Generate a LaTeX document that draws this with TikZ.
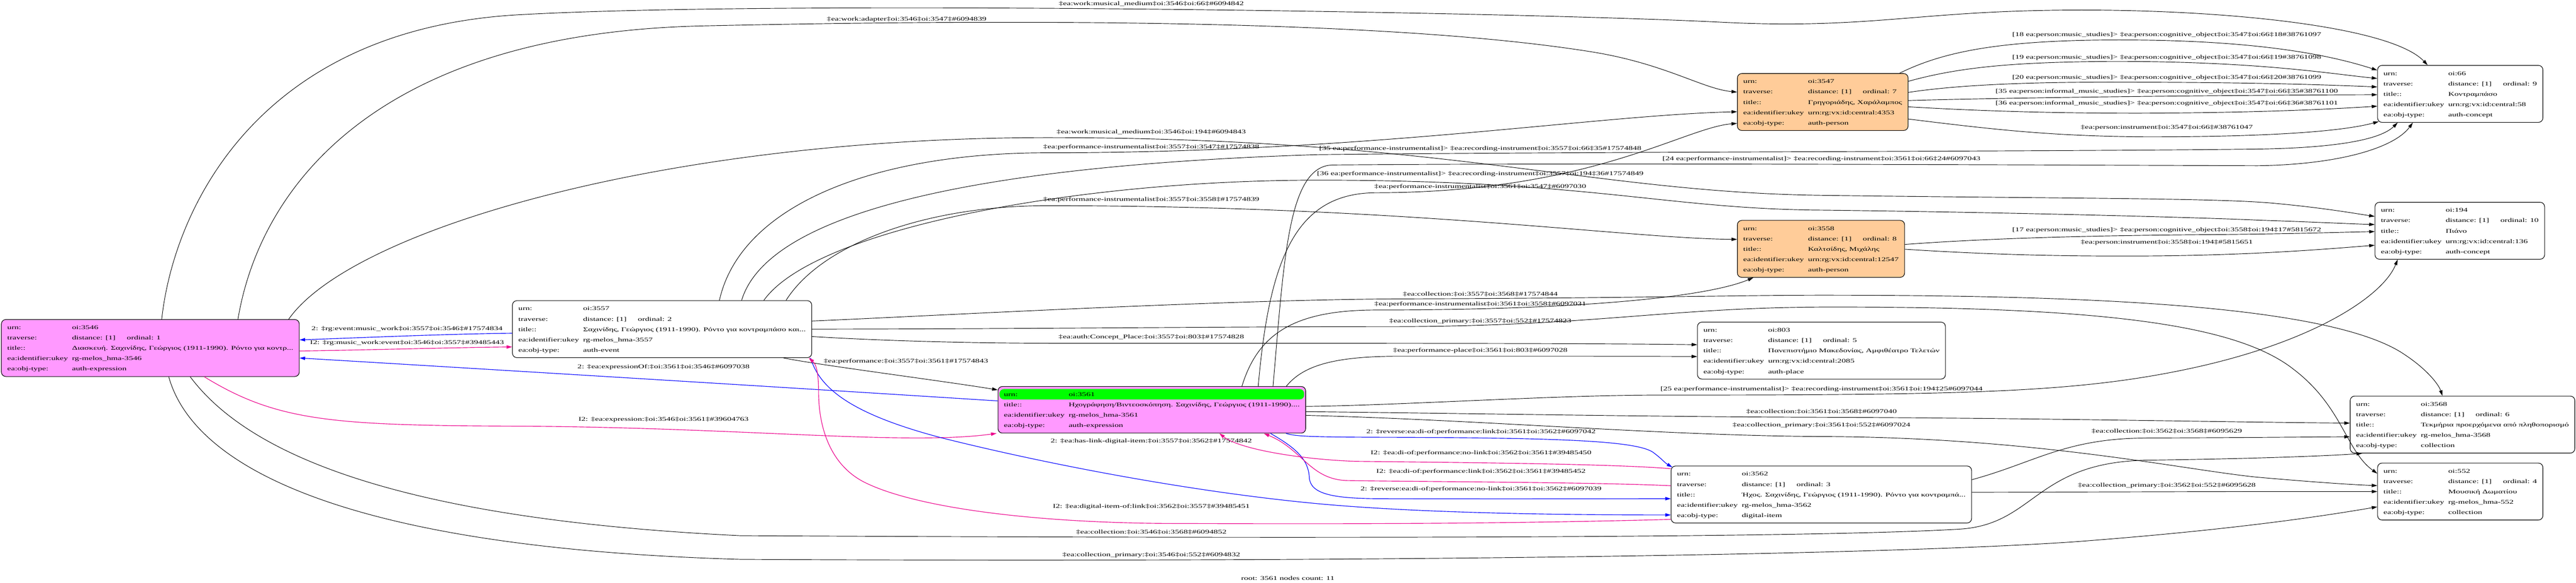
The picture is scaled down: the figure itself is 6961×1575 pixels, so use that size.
\documentclass[tikz,border=0pt]{standalone}
\usepackage{fontspec}
\setmainfont{Liberation Serif}[FakeStretch=1.5]
\usetikzlibrary{calc,arrows.meta}

\definecolor{exprpink}{HTML}{FF99FF}
\definecolor{persorange}{HTML}{FFCC99}
\definecolor{rootgreen}{HTML}{00FF00}

\def\recrow#1#2{\strut\makebox[175pt][l]{#1}#2}
\def\travrow#1{\recrow{traverse:}{\makebox[148pt][l]{distance: [1]}ordinal: #1}}

\tikzset{
	rec/.style={draw, line width=1.5pt, rounded corners=12pt, inner xsep=16pt, inner ysep=7pt, align=left, anchor=north west, font=\fontsize{15.5}{28}\selectfont},
	lab/.style={inner sep=0pt, font=\fontsize{15.5}{18}\selectfont},
	ed/.style={line width=1.3pt, -{Triangle[length=15pt,width=9pt]}},
	edblue/.style={ed, draw=blue, line width=1.6pt},
	edpink/.style={ed, draw=magenta, line width=1.6pt},
	rootrow/.style={path picture={\fill[rootgreen] ([xshift=4pt,yshift=-7pt]path picture bounding box.north west) rectangle ([xshift=-4pt,yshift=-35pt]path picture bounding box.north east);}}
}

\begin{document}
\begin{tikzpicture}[x=1pt,y=-1pt]
			%%%%% START %%%%%
			\path[use as bounding box, fill=white] (0,0) rectangle (6961,1575);
			
			% records
			\node[rec, fill=exprpink] (n3546) at (3,863) {\recrow{urn:}{oi:3546}\\\travrow{1}\\\recrow{title::}{Διασκευή. Σαχινίδης, Γεώργιος (1911-1990). Ρόντο για κοντρ...}\\\recrow{ea:identifier:ukey}{rg-melos\_hma-3546}\\\recrow{ea:obj-type:}{auth-expression}};
			\node[rec] (n3557) at (1384,812) {\recrow{urn:}{oi:3557}\\\travrow{2}\\\recrow{title::}{Σαχινίδης, Γεώργιος (1911-1990). Ρόντο για κοντραμπάσο και...}\\\recrow{ea:identifier:ukey}{rg-melos\_hma-3557}\\\recrow{ea:obj-type:}{auth-event}};
			\node[rec, fill=exprpink, rootrow] (n3561) at (2696,1044) {\recrow{urn:}{oi:3561}\\\recrow{title::}{Ηχογράφηση/Βιντεοσκόπηση. Σαχινίδης, Γεώργιος (1911-1990)....}\\\recrow{ea:identifier:ukey}{rg-melos\_hma-3561}\\\recrow{ea:obj-type:}{auth-expression}};
			\node[rec, fill=persorange] (n3547) at (4694,198) {\recrow{urn:}{oi:3547}\\\travrow{7}\\\recrow{title::}{Γρηγοριάδης, Χαράλαμπος}\\\recrow{ea:identifier:ukey}{urn:rg:vx:id:central:4353}\\\recrow{ea:obj-type:}{auth-person}};
			\node[rec, fill=persorange] (n3558) at (4694,595) {\recrow{urn:}{oi:3558}\\\travrow{8}\\\recrow{title::}{Καλτσίδης, Μιχάλης}\\\recrow{ea:identifier:ukey}{urn:rg:vx:id:central:12547}\\\recrow{ea:obj-type:}{auth-person}};
			\node[rec, anchor=north] (n803) at (4922,870) {\recrow{urn:}{oi:803}\\\travrow{5}\\\recrow{title::}{Πανεπιστήμιο Μακεδονίας, Αμφιθέατρο Τελετών}\\\recrow{ea:identifier:ukey}{urn:rg:vx:id:central:2085}\\\recrow{ea:obj-type:}{auth-place}};
			\node[rec] (n3562) at (4515,1259) {\recrow{urn:}{oi:3562}\\\travrow{3}\\\recrow{title::}{Ήχος. Σαχινίδης, Γεώργιος (1911-1990). Ρόντο για κοντραμπά...}\\\recrow{ea:identifier:ukey}{rg-melos\_hma-3562}\\\recrow{ea:obj-type:}{digital-item}};
			\node[rec] (n66) at (6424,176) {\recrow{urn:}{oi:66}\\\travrow{9}\\\recrow{title::}{Κοντραμπάσο}\\\recrow{ea:identifier:ukey}{urn:rg:vx:id:central:58}\\\recrow{ea:obj-type:}{auth-concept}};
			\node[rec] (n194) at (6417,546) {\recrow{urn:}{oi:194}\\\travrow{10}\\\recrow{title::}{Πιάνο}\\\recrow{ea:identifier:ukey}{urn:rg:vx:id:central:136}\\\recrow{ea:obj-type:}{auth-concept}};
			\node[rec] (n3568) at (6350,1070) {\recrow{urn:}{oi:3568}\\\travrow{6}\\\recrow{title::}{Τεκμήρια προερχόμενα από πληθοπορισμό}\\\recrow{ea:identifier:ukey}{rg-melos\_hma-3568}\\\recrow{ea:obj-type:}{collection}};
			\node[rec] (n552) at (6424,1251) {\recrow{urn:}{oi:552}\\\travrow{4}\\\recrow{title::}{Μουσική Δωματίου}\\\recrow{ea:identifier:ukey}{rg-melos\_hma-552}\\\recrow{ea:obj-type:}{collection}};
			
			% labels
			\node[lab] (lE1) at (3111,10) {‡ea:work:musical\_medium‡oi:3546‡oi:66‡\#6094842};
			\node[lab] (lE2) at (2450,52) {‡ea:work:adapter‡oi:3546‡oi:3547‡\#6094839};
			\node[lab] (lE3) at (5855,95) {[18 ea:person:music\_studies]> ‡ea:person:cognitive\_object‡oi:3547‡oi:66‡18\#38761097};
			\node[lab] (lE4) at (5855,155) {[19 ea:person:music\_studies]> ‡ea:person:cognitive\_object‡oi:3547‡oi:66‡19\#38761098};
			\node[lab] (lE5) at (5855,210) {[20 ea:person:music\_studies]> ‡ea:person:cognitive\_object‡oi:3547‡oi:66‡20\#38761099};
			\node[lab] (lE6) at (5855,247) {[35 ea:person:informal\_music\_studies]> ‡ea:person:cognitive\_object‡oi:3547‡oi:66‡35\#38761100};
			\node[lab] (lE7) at (5855,280) {[36 ea:person:informal\_music\_studies]> ‡ea:person:cognitive\_object‡oi:3547‡oi:66‡36\#38761101};
			\node[lab] (lE8) at (5855,345) {‡ea:person:instrument‡oi:3547‡oi:66‡\#38761047};
			\node[lab] (lE9) at (3111,357) {‡ea:work:musical\_medium‡oi:3546‡oi:194‡\#6094843};
			\node[lab] (lE10) at (3111,398) {‡ea:performance-instrumentalist‡oi:3557‡oi:3547‡\#17574838};
			\node[lab] (lE11) at (4000,402) {[35 ea:performance-instrumentalist]> ‡ea:recording-instrument‡oi:3557‡oi:66‡35\#17574848};
			\node[lab] (lE12) at (4922,430) {[24 ea:performance-instrumentalist]> ‡ea:recording-instrument‡oi:3561‡oi:66‡24\#6097043};
			\node[lab] (lE13) at (4000,470) {[36 ea:performance-instrumentalist]> ‡ea:recording-instrument‡oi:3557‡oi:194‡36\#17574849};
			\node[lab] (lE14) at (4000,505) {‡ea:performance-instrumentalist‡oi:3561‡oi:3547‡\#6097030};
			\node[lab] (lE15) at (3111,540) {‡ea:performance-instrumentalist‡oi:3557‡oi:3558‡\#17574839};
			\node[lab] (lE16) at (5855,622) {[17 ea:person:music\_studies]> ‡ea:person:cognitive\_object‡oi:3558‡oi:194‡17\#5815672};
			\node[lab] (lE17) at (5855,655) {‡ea:person:instrument‡oi:3558‡oi:194‡\#5815651};
			\node[lab] (lE18) at (4000,795) {‡ea:collection:‡oi:3557‡oi:3568‡\#17574844};
			\node[lab] (lE19) at (4000,822) {‡ea:performance-instrumentalist‡oi:3561‡oi:3558‡\#6097031};
			\node[lab] (lE20) at (4000,868) {‡ea:collection\_primary:‡oi:3557‡oi:552‡\#17574823};
			\node[lab] (lE21) at (3111,912) {‡ea:auth:Concept\_Place:‡oi:3557‡oi:803‡\#17574828};
			\node[lab] (lE22) at (4000,948) {‡ea:performance-place‡oi:3561‡oi:803‡\#6097028};
			\node[lab] (lE23) at (4922,1052) {[25 ea:performance-instrumentalist]> ‡ea:recording-instrument‡oi:3561‡oi:194‡25\#6097044};
			\node[lab] (lE24) at (4922,1113) {‡ea:collection:‡oi:3561‡oi:3568‡\#6097040};
			\node[lab] (lE25) at (4922,1150) {‡ea:collection\_primary:‡oi:3561‡oi:552‡\#6097024};
			\node[lab] (lE26) at (5855,1165) {‡ea:collection:‡oi:3562‡oi:3568‡\#6095629};
			\node[lab] (lE27) at (5855,1313) {‡ea:collection\_primary:‡oi:3562‡oi:552‡\#6095628};
			\node[lab] (lE28) at (3111,1438) {‡ea:collection:‡oi:3546‡oi:3568‡\#6094852};
			\node[lab] (lE29) at (3111,1500) {‡ea:collection\_primary:‡oi:3546‡oi:552‡\#6094832};
			\node[lab] (lE30) at (1100,890) {2: ‡rg:event:music\_work‡oi:3557‡oi:3546‡\#17574834};
			\node[lab] (lE31) at (1100,927) {I2: ‡rg:music\_work:event‡oi:3546‡oi:3557‡\#39485443};
			\node[lab] (lE32) at (1793,992) {2: ‡ea:expressionOf:‡oi:3561‡oi:3546‡\#6097038};
			\node[lab] (lE33) at (1793,1135) {I2: ‡ea:expression:‡oi:3546‡oi:3561‡\#39604763};
			\node[lab] (lE34) at (2448,977) {‡ea:performance:‡oi:3557‡oi:3561‡\#17574843};
			\node[lab] (lE35) at (3111,1193) {2: ‡ea:has-link-digital-item:‡oi:3557‡oi:3562‡\#17574842};
			\node[lab] (lE36) at (3111,1370) {I2: ‡ea:digital-item-of:link‡oi:3562‡oi:3557‡\#39485451};
			\node[lab] (lE37) at (4002,1168) {2: ‡reverse:ea:di-of:performance:link‡oi:3561‡oi:3562‡\#6097042};
			\node[lab] (lE38) at (4002,1225) {I2: ‡ea:di-of:performance:no-link‡oi:3562‡oi:3561‡\#39485450};
			\node[lab] (lE39) at (4002,1275) {I2: ‡ea:di-of:performance:link‡oi:3562‡oi:3561‡\#39485452};
			\node[lab] (lE40) at (4002,1322) {2: ‡reverse:ea:di-of:performance:no-link‡oi:3561‡oi:3562‡\#6097039};
			\node[lab] (caption) at (3480,1563) {root: 3561 nodes count: 11};
			
			% from 3546
			\draw[ed] ($(n3546.north west)+(434,0)$) .. controls (470,560) and (700,80) .. (1400,40) .. controls (2100,0) and (4100,32) .. (4650,60) .. controls (5000,78) and (5150,40) .. (5454,30) .. controls (5900,15) and (6450,60) .. ($(n66.north west)+(136,0)$);
			\draw[ed] ($(n3546.north west)+(640,0)$) .. controls (700,520) and (1000,90) .. (1900,70) .. controls (2900,48) and (3800,60) .. (4300,140) .. controls (4500,172) and (4600,240) .. ($(n3547.north west)+(0,51)$);
			\draw[ed] ($(n3546.north west)+(777,0)$) .. controls (950,620) and (1800,372) .. (2830,372) .. controls (3900,372) and (4300,520) .. (4922,528) .. controls (5600,537) and (6000,535) .. (6150,550) .. controls (6280,562) and (6370,578) .. ($(n194.north west)+(0,39)$);
			\draw[ed] ($(n3546.south west)+(511,0)$) .. controls (650,1200) and (1000,1400) .. (2000,1448) .. controls (3500,1456) and (4900,1455) .. (5300,1430) .. controls (5500,1415) and (5500,1250) .. (5800,1244) .. controls (6100,1240) and (6300,1232) .. ($(n3568.south west)+(33,0)$);
			\draw[ed] ($(n3546.south west)+(453,0)$) .. controls (520,1250) and (900,1480) .. (2000,1512) .. controls (3500,1520) and (5000,1505) .. (5600,1465) .. controls (6000,1435) and (6250,1400) .. ($(n552.north west)+(0,119)$);
			\draw[edpink] ($(n3546.east)+(0,8)$) .. controls (1000,946) and (1200,940) .. ($(n3557.west)+(0,48)$);
			\draw[edpink] ($(n3546.south west)+(549,0)$) .. controls (750,1140) and (900,1150) .. (1400,1152) .. controls (2000,1155) and (2450,1205) .. ($(n3561.south west)+(-3,0)$);
			
			% back to 3546
			\draw[edblue] ($(n3557.west)+(0,11)$) .. controls (1200,903) and (1000,912) .. ($(n3546.east)+(0,-22)$);
			\draw[edblue] ($(n3561.west)+(0,-24)$) .. controls (2200,1052) and (1300,997) .. ($(n3546.east)+(0,27)$);
			
			% from 3557
			\draw[ed] ($(n3557.south west)+(733,0)$) .. controls (2200,985) and (2550,1030) .. ($(n3561.north west)+(0,10)$);
			\draw[ed] ($(n3557.north west)+(560,0)$) .. controls (2000,560) and (2350,413) .. (2830,413) .. controls (3700,413) and (4300,312) .. ($(n3547.north west)+(0,104)$);
			\draw[ed] ($(n3557.north west)+(620,0)$) .. controls (2080,560) and (2700,445) .. (3560,418) .. controls (4300,410) and (5500,410) .. (6100,403) .. controls (6300,400) and (6430,380) .. ($(n66.south west)+(55,0)$);
			\draw[ed] ($(n3557.north west)+(680,0)$) .. controls (2200,620) and (2900,487) .. (3560,487) .. controls (4300,487) and (4500,565) .. (4922,568) .. controls (5500,575) and (6000,590) .. (6100,595) .. controls (6250,600) and (6350,605) .. ($(n194.north west)+(0,61)$);
			\draw[ed] ($(n3557.north west)+(740,0)$) .. controls (2220,660) and (2500,556) .. (2830,556) .. controls (3800,556) and (4400,645) .. ($(n3558.north west)+(0,52)$);
			\draw[ed] ($(n3557.east)+(0,-22)$) .. controls (2500,855) and (3300,810) .. (3780,808) .. controls (4400,806) and (4700,798) .. (4922,798) .. controls (5600,798) and (6300,820) .. (6500,960) .. controls (6560,1000) and (6590,1040) .. ($(n3568.north west)+(250,0)$);
			\draw[ed] (n3557.east) .. controls (2800,889) and (3300,883) .. (3750,883) .. controls (4300,883) and (4500,832) .. (4922,830) .. controls (5700,828) and (6050,880) .. (6200,1000) .. controls (6330,1100) and (6340,1220) .. ($(n552.north west)+(0,29)$);
			\draw[ed] ($(n3557.east)+(0,20)$) .. controls (2450,925) and (2700,928) .. (2880,928) .. controls (3800,928) and (4300,928) .. ($(n803.west)+(0,-16)$);
			\draw[edblue] ($(n3557.south east)+(-4,0)$) .. controls (2215,1050) and (2300,1120) .. (2550,1185) .. controls (2900,1272) and (3300,1340) .. (3600,1365) .. controls (3900,1390) and (4300,1392) .. ($(n3562.north west)+(0,133)$);
			
			% from 3561
			\draw[ed] ($(n3561.north west)+(744,0)$) .. controls (3470,700) and (3480,450) .. (3600,446) .. controls (4300,440) and (5500,446) .. (6100,448) .. controls (6320,445) and (6470,400) .. ($(n66.south west)+(96,0)$);
			\draw[ed] ($(n3561.north west)+(704,0)$) .. controls (3430,700) and (3500,521) .. (3720,521) .. controls (4300,520) and (4550,345) .. ($(n3547.south west)+(0,-20)$);
			\draw[ed] ($(n3561.north west)+(660,0)$) .. controls (3400,900) and (3500,838) .. (3720,838) .. controls (4300,838) and (4620,800) .. ($(n3558.south west)+(44,0)$);
			\draw[ed] ($(n3561.north west)+(780,0)$) .. controls (3520,990) and (3600,963) .. (3780,963) .. controls (4250,963) and (4450,963) .. ($(n803.west)+(0,16)$);
			\draw[ed] ($(n3561.east)+(0,-9)$) .. controls (3800,1095) and (4200,1068) .. (4480,1068) .. controls (5300,1068) and (5600,1062) .. (5900,1000) .. controls (6250,928) and (6440,800) .. ($(n194.south west)+(62,0)$);
			\draw[ed] ($(n3561.east)+(0,5)$) .. controls (4000,1118) and (4500,1127) .. (4922,1128) .. controls (5500,1130) and (6000,1141) .. ($(n3568.west)+(0,-4)$);
			\draw[ed] ($(n3561.east)+(0,15)$) .. controls (4000,1135) and (4500,1178) .. (4922,1180) .. controls (5500,1182) and (5900,1270) .. (6100,1290) .. controls (6250,1303) and (6350,1310) .. ($(n552.west)+(0,-16)$);
			\draw[edblue] ($(n3561.south east)+(-54,0)$) .. controls (3500,1180) and (3550,1181) .. (3700,1182) .. controls (4200,1183) and (4430,1190) .. (4470,1225) .. controls (4490,1240) and (4500,1252) .. ($(n3562.north west)+(4,4)$);
			\draw[edblue] ($(n3561.south west)+(737,0)$) .. controls (3500,1210) and (3535,1240) .. (3538,1290) .. controls (3540,1335) and (3600,1347) .. (3720,1348) .. controls (4100,1349) and (4400,1348) .. ($(n3562.north west)+(0,89)$);
			
			% from 3562
			\draw[edpink] ($(n3562.north west)+(0,8)$) .. controls (4350,1253) and (3900,1250) .. (3661,1247) .. controls (3520,1242) and (3350,1215) .. ($(n3561.south west)+(599,0)$);
			\draw[edpink] ($(n3562.north west)+(0,54)$) .. controls (4300,1303) and (3800,1302) .. (3640,1299) .. controls (3540,1296) and (3520,1215) .. ($(n3561.south west)+(719,0)$);
			\draw[edpink] ($(n3562.north west)+(0,145)$) .. controls (4000,1418) and (3500,1416) .. (3150,1415) .. controls (2750,1412) and (2450,1365) .. (2329,1300) .. controls (2230,1245) and (2212,1130) .. (2212,1060) .. controls (2212,1010) and (2206,985) .. ($(n3557.south east)+(-9,0)$);
			\draw[ed] ($(n3562.east)+(0,-40)$) .. controls (5500,1250) and (5580,1185) .. (5800,1184) .. controls (6100,1183) and (6250,1181) .. ($(n3568.west)+(0,33)$);
			\draw[ed] ($(n3562.east)+(0,-6)$) .. controls (5700,1330) and (6100,1328) .. (n552.west);
			
			% from 3547 and 3558
			\draw[ed] ($(n3547.north east)+(-24,0)$) .. controls (5250,140) and (5400,110) .. (5700,108) .. controls (6100,106) and (6300,150) .. ($(n66.north west)+(0,14)$);
			\draw[ed] ($(n3547.east)+(0,-56)$) .. controls (5300,180) and (5450,168) .. (5700,166) .. controls (6100,165) and (6300,200) .. ($(n66.north west)+(0,36)$);
			\draw[ed] ($(n3547.east)+(0,-26)$) .. controls (5300,228) and (5500,222) .. (5700,222) .. controls (6100,222) and (6300,230) .. ($(n66.north west)+(0,59)$);
			\draw[ed] ($(n3547.east)+(0,-4)$) .. controls (5500,262) and (6100,257) .. ($(n66.north west)+(0,80)$);
			\draw[ed] ($(n3547.east)+(0,13)$) .. controls (5400,303) and (5600,306) .. (5780,306) .. controls (6100,305) and (6300,295) .. ($(n66.north west)+(0,111)$);
			\draw[ed] ($(n3547.east)+(0,46)$) .. controls (5400,352) and (5550,368) .. (5800,370) .. controls (6100,370) and (6320,358) .. ($(n66.south west)+(4,-3)$);
			\draw[ed] ($(n3558.east)+(0,-12)$) .. controls (5400,642) and (5700,636) .. (6000,634) .. controls (6200,632) and (6320,628) .. ($(n194.north west)+(0,80)$);
			\draw[ed] ($(n3558.east)+(0,1)$) .. controls (5400,690) and (5600,693) .. (5800,692) .. controls (6100,690) and (6300,672) .. ($(n194.north west)+(0,117)$);
			
			%%%%% END %%%%%
\end{tikzpicture}
\end{document}
